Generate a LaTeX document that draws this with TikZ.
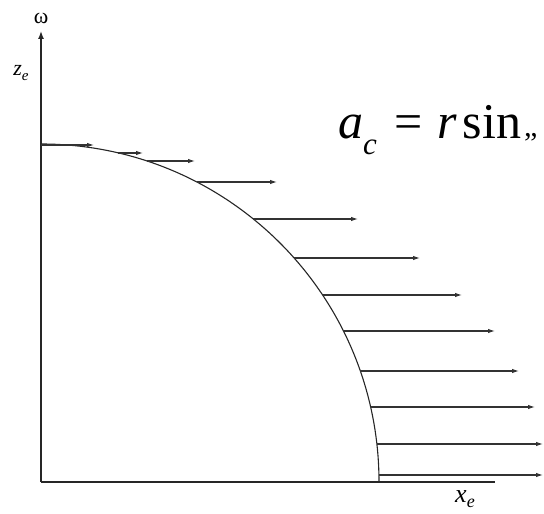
\documentclass[tikz,border=0pt]{standalone}
\usepackage{fontspec}
\setmainfont{Liberation Serif}
\usetikzlibrary{arrows.meta}

\begin{document}
\begin{tikzpicture}[x=1pt, y=1pt]
    % Styles
    \tikzstyle{axis line}=[line width=1.4pt, black!85]
    \tikzstyle{vel arrow}=[line width=1.1pt, black!80, -{Latex[length=7pt,width=4.5pt]}]
    \tikzstyle{axis label}=[inner sep=0pt, font=\fontsize{22}{22}\selectfont]

    \useasboundingbox (0,0) rectangle (544,514);

    % --- Axes ---
    \coordinate (O) at (41,32);
    \coordinate (z_top) at (41,483);
    \coordinate (x_end) at (495,32);
    \draw[axis line, -{Latex[length=8pt,width=6pt]}] (O) -- (z_top);
    \draw[axis line] (O) -- (x_end);

    \node[axis label] (omega) at (41,496) {ω};
    \node[axis label] (z_lab) at (21,441) {\textit{z}\raisebox{-5pt}{\fontsize{15}{15}\selectfont\textit{e}}};
    \node[axis label, font=\fontsize{26}{26}\selectfont] (x_lab) at (465,15) {\textit{x}\raisebox{-5pt}{\fontsize{18}{18}\selectfont\textit{e}}};

    % --- Profile (quarter circle) ---
    \coordinate (p_top) at (41,370);
    \draw[line width=1.1pt, black!85] (p_top) arc[start angle=90, end angle=0, radius=338] coordinate (p_bot);

    % --- Velocity arrows ---
    % Start points on the profile
    \coordinate (s_1) at (41,369);
    \coordinate (s_2) at (118,361);
    \coordinate (s_3) at (147,353);
    \coordinate (s_4) at (197,332);
    \coordinate (s_5) at (253,295);
    \coordinate (s_6) at (294,256);
    \coordinate (s_7) at (323,219);
    \coordinate (s_8) at (343,183);
    \coordinate (s_9) at (360,143);
    \coordinate (s_10) at (371,107);
    \coordinate (s_11) at (377,70);
    \coordinate (s_12) at (379,39);

    % Tips
    \coordinate (t_1) at (94,369);
    \coordinate (t_2) at (143,361);
    \coordinate (t_3) at (195,353);
    \coordinate (t_4) at (277,332);
    \coordinate (t_5) at (358,295);
    \coordinate (t_6) at (420,256);
    \coordinate (t_7) at (462,219);
    \coordinate (t_8) at (495,183);
    \coordinate (t_9) at (519,143);
    \coordinate (t_10) at (535,107);
    \coordinate (t_11) at (543,70);
    \coordinate (t_12) at (543,39);

    \draw[vel arrow] (s_1) -- (t_1);
    \draw[vel arrow] (s_2) -- (t_2);
    \draw[vel arrow] (s_3) -- (t_3);
    \draw[vel arrow] (s_4) -- (t_4);
    \draw[vel arrow] (s_5) -- (t_5);
    \draw[vel arrow] (s_6) -- (t_6);
    \draw[vel arrow] (s_7) -- (t_7);
    \draw[vel arrow] (s_8) -- (t_8);
    \draw[vel arrow] (s_9) -- (t_9);
    \draw[vel arrow] (s_10) -- (t_10);
    \draw[vel arrow] (s_11) -- (t_11);
    \draw[vel arrow] (s_12) -- (t_12);

    % --- Formula ---
    \node[anchor=base west, inner sep=0pt, font=\fontsize{50}{50}\selectfont] (formula) at (338,375)
        {\textit{a}\raisebox{-16pt}{\fontsize{31}{31}\selectfont\textit{c}}\hspace{18pt}=\hspace{14pt}\textit{r}\hspace{6pt}sin\hspace{3pt}\raisebox{2pt}{\fontsize{30}{30}\selectfont „}};

\end{tikzpicture}
\end{document}
